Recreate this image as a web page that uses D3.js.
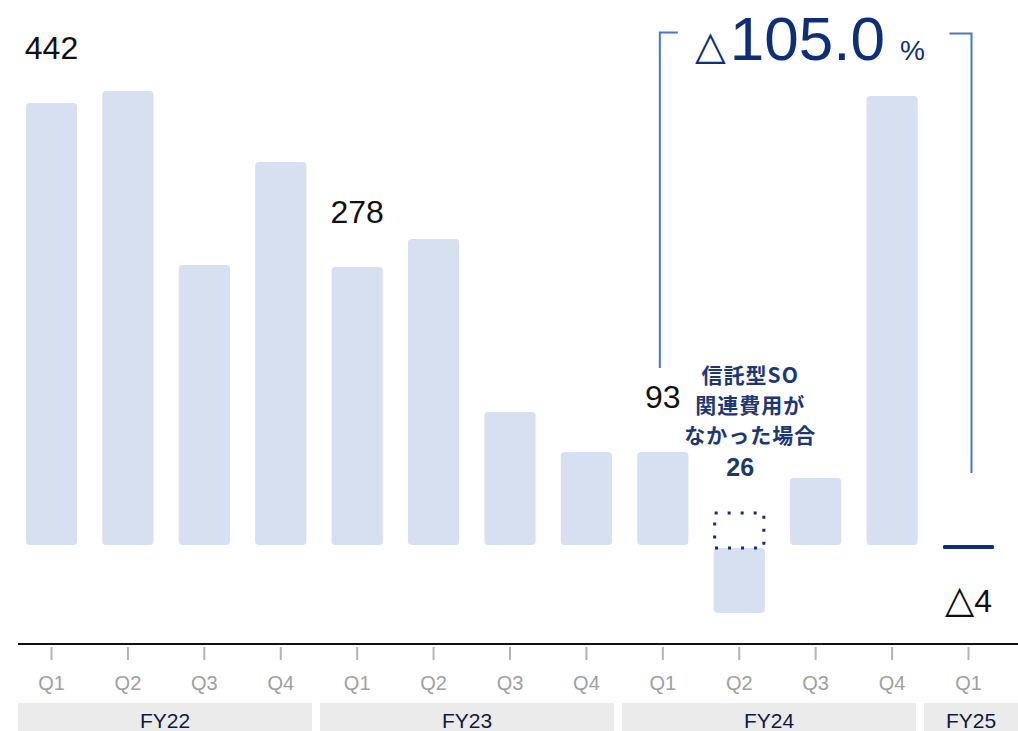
<!DOCTYPE html>
<html>
<head>
<meta charset="utf-8">
<script src="https://cdn.jsdelivr.net/npm/d3@7"></script>
<style>
  body { margin: 0; background: #fff; }
  svg { display: block; font-family: "Liberation Sans", Arial, sans-serif; }
</style>
</head>
<body>
<div id="chart"></div>
<script>
// data
const fiscalYears = ["FY22", "FY23", "FY24", "FY25"];
const quarters = ["Q1", "Q2", "Q3", "Q4", "Q1", "Q2", "Q3", "Q4", "Q1", "Q2", "Q3", "Q4", "Q1"];
const values = [442, 454, 280, 383, 278, 306, 133, 93, 93, -68, 67, 449, -4];
const valueLabels = ["442", "", "", "", "278", "", "", "", "93", "", "", "", "4"];
const negativeMark = "△";
const soExcludedIndex = 9;      // FY24 Q2
const soExcludedValue = 26;
const soExcludedBoxTop = 32;
const soNote = ["信託型SO", "関連費用が", "なかった場合"];
const changeNumber = "105.0";

// set the dimensions
const width = 1018, height = 731;
const baseY = 545;

const svg = d3.select("#chart")
  .append("svg")
    .attr("width", width)
    .attr("height", height);

const keys = quarters.map((q, i) => i);
const x = d3.scaleBand()
  .domain(keys)
  .range([13.3, 1006.7])
  .paddingInner(0.33)
  .paddingOuter(0.165);

const y = d3.scaleLinear()
  .domain([0, 500])
  .range([baseY, baseY - 500]);

const barColor = "#d6e0f1";
const navy = "#0e2f78";
const last = values.length - 1;

// bars (the last one is drawn as a thin dark line)
svg.append("g")
  .selectAll("rect")
  .data(values)
  .join("rect")
    .attr("x", (d, i) => x(i))
    .attr("width", x.bandwidth())
    .attr("y", (d, i) => i === soExcludedIndex ? y(0) + 3 : Math.min(y(d), y(0)))
    .attr("height", (d, i) => i === soExcludedIndex ? Math.abs(y(d) - y(0)) - 3 : Math.abs(y(d) - y(0)))
    .attr("rx", (d, i) => i === last ? 1.5 : 4)
    .attr("fill", (d, i) => i === last ? navy : barColor);

// dotted box: FY24 Q2 without trust-type SO costs
svg.append("rect")
  .attr("x", x(soExcludedIndex) + 1)
  .attr("y", y(soExcludedBoxTop))
  .attr("width", x.bandwidth() - 2)
  .attr("height", y(0) + 3 - y(soExcludedBoxTop))
  .attr("fill", "none")
  .attr("stroke", navy)
  .attr("stroke-width", 3)
  .attr("stroke-dasharray", "3,10");

// value labels (only where the picture shows one)
const labelled = values.map((v, i) => ({v, i})).filter(d => valueLabels[d.i] !== "");
const lbl = svg.append("g")
  .selectAll("text")
  .data(labelled)
  .join("text")
    .attr("x", d => x(d.i) + x.bandwidth() / 2)
    .attr("y", d => d.v >= 0 ? y(d.v) - 44 : y(0) + 67)
    .attr("text-anchor", "middle")
    .attr("font-size", 32)
    .attr("fill", "#111");
lbl.filter(d => d.v < 0).append("tspan")
  .attr("font-family", "'DejaVu Sans', sans-serif")
  .attr("font-size", 38)
  .text(negativeMark);
lbl.append("tspan").text(d => valueLabels[d.i]);

// SO note
const noteX = x(soExcludedIndex) + x.bandwidth() / 2 + 11;
svg.append("text")
  .attr("text-anchor", "middle")
  .attr("font-family", "'Noto Sans CJK JP', sans-serif")
  .attr("font-weight", "bold")
  .attr("font-size", 21)
  .attr("letter-spacing", 1)
  .attr("fill", "#1d3676")
  .selectAll("tspan")
  .data(soNote)
  .join("tspan")
    .attr("x", noteX)
    .attr("y", (d, i) => 383 + i * 30)
    .text(d => d);

svg.append("text")
  .attr("x", x(soExcludedIndex) + x.bandwidth() / 2 + 1)
  .attr("y", y(soExcludedValue) - 43)
  .attr("text-anchor", "middle")
  .attr("font-weight", "bold")
  .attr("font-size", 25)
  .attr("fill", "#1d3a6a")
  .text(soExcludedValue);

// bracket for the change
const bracketColor = "#4a76c8";
const lx = x(8) + x.bandwidth() / 2 - 3, rx = x(12) + x.bandwidth() / 2 + 3;
svg.append("path")
  .attr("d", `M${lx + 18},32.5 H${lx} V368`)
  .attr("fill", "none")
  .attr("stroke", bracketColor)
  .attr("stroke-width", 2);
svg.append("path")
  .attr("d", `M${rx - 22},33.5 H${rx} V473`)
  .attr("fill", "none")
  .attr("stroke", bracketColor)
  .attr("stroke-width", 2);

const change = svg.append("text")
  .attr("x", 695)
  .attr("y", 59)
  .attr("fill", navy);
change.append("tspan").attr("font-family", "'DejaVu Sans', sans-serif").attr("font-size", 40).text(negativeMark);
change.append("tspan").attr("font-size", 62).attr("dx", 4).attr("dy", 1).text(changeNumber);
change.append("tspan").attr("font-size", 28).attr("dx", 15).text("%");

// axis line
svg.append("line")
  .attr("x1", 18).attr("x2", width)
  .attr("y1", 644).attr("y2", 644)
  .attr("stroke", "#111")
  .attr("stroke-width", 2);

// quarter ticks and labels
const axis = svg.append("g")
  .attr("transform", "translate(0,647)")
  .call(d3.axisBottom(x).tickSize(13).tickSizeOuter(0).tickPadding(16).tickFormat(i => quarters[i]));
axis.select(".domain").remove();
axis.selectAll(".tick line").attr("stroke", "#b4b4b4").attr("stroke-width", 2);
axis.selectAll(".tick text")
  .attr("fill", "#a0a0a0")
  .attr("font-size", 20)
  .attr("font-family", "'Liberation Sans', Arial, sans-serif");

// fiscal year bands
const fyStep = 302, fyGap = 8;
const fy = svg.append("g");
fy.selectAll("rect")
  .data(fiscalYears)
  .join("rect")
    .attr("x", (d, i) => 18 + i * fyStep)
    .attr("y", 703)
    .attr("width", (d, i) => Math.min(fyStep - fyGap, width - (18 + i * fyStep)))
    .attr("height", 28)
    .attr("fill", "#ebebeb");
fy.selectAll("text")
  .data(fiscalYears)
  .join("text")
    .attr("x", (d, i) => {
      const x0 = 18 + i * fyStep;
      return x0 + Math.min(fyStep - fyGap, width - x0) / 2;
    })
    .attr("y", 728)
    .attr("text-anchor", "middle")
    .attr("font-size", 21)
    .attr("fill", "#101a40")
    .text(d => d);
</script>
</body>
</html>
